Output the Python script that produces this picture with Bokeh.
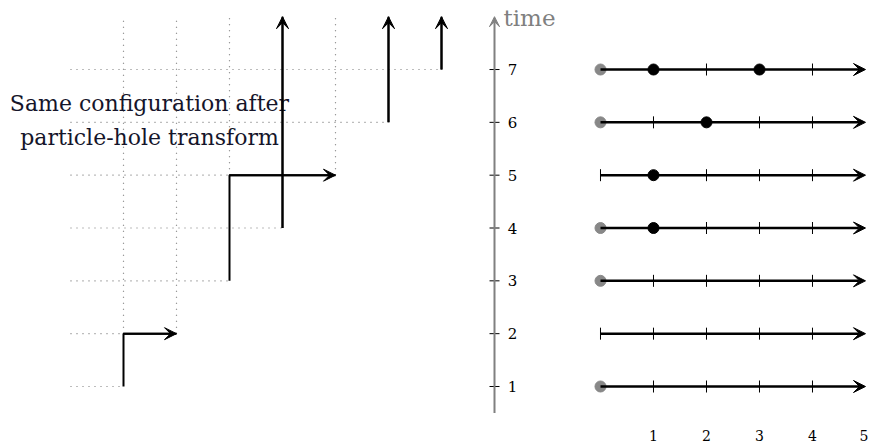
from bokeh.plotting import figure
from bokeh.models import Range1d, Arrow, VeeHead, ColumnDataSource
from bokeh.core.properties import value
from bokeh.embed import file_html
from bokeh.resources import INLINE
import math

# ---------------- data ----------------
# left diagram: particle paths on a (column, row) lattice
paths = [
    [(1, 1), (1, 2), (2, 2)],
    [(3, 3), (3, 5), (5, 5)],
    [(4, 4), (4, 8)],
    [(6, 6), (6, 8)],
    [(7, 7), (7, 8)],
]
# dotted lattice: rows 1..7 reach from column 0 to these columns
grid_rows = [1, 2, 3, 4, 5, 6, 7]
grid_row_end = [1, 1, 3, 4, 3, 6, 7]
# dotted vertical lines: column, from row, to row
grid_cols = [1, 2, 3, 5]
grid_col_from = [2, 2, 5, 5]
grid_col_to = [8, 8, 8, 8]

caption = ["Same configuration after", "particle-hole transform"]
caption_x = [1.49, 1.49]
caption_y = [6.36, 5.72]

# right diagram: time lines with particle positions
times = [1, 2, 3, 4, 5, 6, 7]
sites = [1, 2, 3, 4, 5]
origin_rows = [1, 3, 4, 6, 7]        # rows with a grey particle at the origin
no_origin_rows = [2, 5]              # rows with a tick at the origin instead
particles = {7: [1, 3], 6: [2], 5: [1], 4: [1]}

# placement of the right diagram in the shared coordinate system
AXIS_X = 8.0
LINE_X0 = 10.0
LINE_X1 = 15.0

# ---------------- figure ----------------
p = figure(width=869, height=446,
           x_range=Range1d(-1.3208, 15.0755), y_range=Range1d(-0.1357, 8.3064),
           output_backend="svg", toolbar_location=None, min_border=0)
p.axis.visible = False
p.grid.visible = False
p.outline_line_color = None

dot_color = "#7a7a7a"
# dotted lattice
p.segment(x0=[0] * len(grid_rows), y0=grid_rows, x1=grid_row_end, y1=grid_rows,
          line_color=dot_color, line_width=1.2, line_dash="1 5")
p.segment(x0=grid_cols, y0=grid_col_from, x1=grid_cols, y1=grid_col_to,
          line_color=dot_color, line_width=1.2, line_dash="1 5")

# particle paths
p.multi_line(xs=[[pt[0] for pt in path] for path in paths],
             ys=[[pt[1] for pt in path] for path in paths],
             line_color="black", line_width=2)
arr_src = ColumnDataSource(dict(
    x0=[path[-2][0] for path in paths], y0=[path[-2][1] for path in paths],
    x1=[path[-1][0] for path in paths], y1=[path[-1][1] for path in paths]))
p.add_layout(Arrow(end=VeeHead(size=12, fill_color="black", line_color="black", line_width=1),
                   x_start="x0", y_start="y0", x_end="x1", y_end="y1",
                   source=arr_src, line_color="black", line_width=2))

p.text(x=caption_x, y=caption_y, text=caption, text_font=value("DejaVu Serif"),
       text_font_size="22px", text_align="center", text_baseline="middle",
       text_color="#15152a")

# time axis
axis_grey = "#808080"
p.add_layout(Arrow(end=VeeHead(size=10, fill_color=axis_grey, line_color=axis_grey, line_width=1),
                   x_start=AXIS_X, y_start=0.5, x_end=AXIS_X, y_end=8.0,
                   line_color=axis_grey, line_width=2))
p.scatter(x=[AXIS_X] * len(times), y=times, marker="dash", size=10,
          line_color="black", line_width=1)
p.text(x=[AXIS_X + 0.34] * len(times), y=times, text=[str(t) for t in times],
       text_font=value("DejaVu Serif"), text_font_size="15px",
       text_align="center", text_baseline="middle", text_color="black")
p.text(x=[AXIS_X + 0.17], y=[7.98], text=["time"], text_font=value("DejaVu Serif"),
       text_font_size="23px", text_align="left", text_baseline="middle",
       text_color=axis_grey)

# time lines
line_src = ColumnDataSource(dict(x0=[LINE_X0] * len(times), x1=[LINE_X1] * len(times),
                                 y=times))
p.add_layout(Arrow(end=VeeHead(size=12, fill_color="black", line_color="black", line_width=1),
                   x_start="x0", y_start="y", x_end="x1", y_end="y",
                   source=line_src, line_color="black", line_width=2.5))

tick_x, tick_y, part_x, part_y = [], [], [], []
for t in times:
    occ = particles.get(t, [])
    for s in sites[:-1]:
        if s in occ:
            part_x.append(LINE_X0 + s)
            part_y.append(t)
        else:
            tick_x.append(LINE_X0 + s)
            tick_y.append(t)
for t in no_origin_rows:
    tick_x.append(LINE_X0)
    tick_y.append(t)

p.scatter(x=tick_x, y=tick_y, marker="dash", angle=math.pi / 2, size=12,
          line_color="black", line_width=1)
p.scatter(x=[LINE_X0] * len(origin_rows), y=origin_rows, marker="circle", size=11,
          fill_color="#888888", line_color="#888888")
p.scatter(x=part_x, y=part_y, marker="circle", size=11,
          fill_color="black", line_color="black")

p.text(x=[LINE_X0 + s for s in sites[:-1]] + [LINE_X1 - 0.03], y=[0.07] * len(sites),
       text=[str(s) for s in sites],
       text_font=value("DejaVu Serif"), text_font_size="14px",
       text_align="center", text_baseline="middle", text_color="black")

open("out.html", "w").write(file_html(p, INLINE))
